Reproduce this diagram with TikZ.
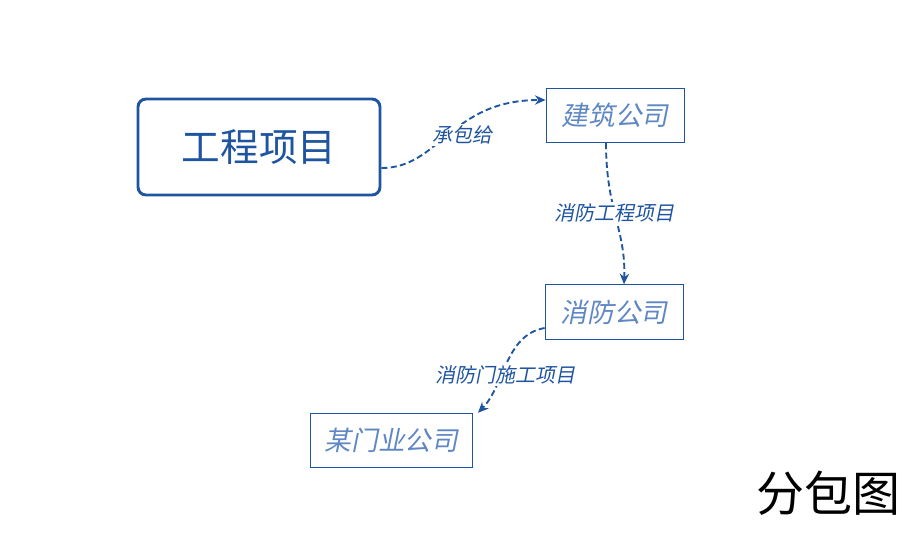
\documentclass[tikz,border=0pt]{standalone}
\usepackage{fontspec}
\usetikzlibrary{arrows.meta}
\newfontfamily\cjk{Noto Sans CJK SC}
\newfontfamily\cjkit[FakeSlant=0.2]{Noto Sans CJK SC}
\definecolor{boxblue}{RGB}{31,85,160}
\definecolor{textblue}{RGB}{95,135,195}
\tikzset{
  mainbox/.style={draw=boxblue,line width=2.2pt,rounded corners=6pt,minimum width=181.5pt,minimum height=72pt,text=boxblue,font=\cjk\fontsize{29}{32}\selectfont},
  firmbox/.style={draw=boxblue,line width=0.6pt,minimum height=41pt,text=textblue,font=\cjkit\fontsize{20}{24}\selectfont},
  flow/.style={draw=boxblue,line width=1.4pt,dash pattern=on 4.5pt off 2.5pt,-{Stealth[length=8pt,width=7pt]}},
  flowlabel/.style={text=boxblue,fill=white,inner sep=1pt,font=\cjkit\fontsize{15}{18}\selectfont}
}
\begin{document}
\begin{tikzpicture}[x=0.75pt,y=0.75pt,yscale=-1,xscale=1]
  \useasboundingbox (0,0) rectangle (912,532);

  % boxes
  \node[mainbox] (project) at (259,147) {工程项目};
  \node[firmbox,minimum width=103.5pt] (builder) at (615,115.5) {建筑公司};
  \node[firmbox,minimum width=103.5pt] (fire) at (614,312) {消防公司};
  \node[firmbox,minimum width=122pt] (door) at (391.5,440.5) {某门业公司};

  % connectors
  \draw[flow] (project.east |- 0,168) .. controls (440,168) and (450,100) .. (builder.west |- 0,100);
  \draw[flow] (builder.south -| 606,0) .. controls (606,210) and (626,230) .. (fire.north -| 624,0);
  \draw[flow] (fire.west |- 0,328) .. controls (505,335) and (505,385) .. (door.north east -| 478,0);

  % labels
  \node[flowlabel] (lbla) at (462,135) {承包给};
  \node[flowlabel] (lblb) at (614,213) {消防工程项目};
  \node[flowlabel] (lblc) at (505,375) {消防门施工项目};
  \node[font=\cjk\fontsize{36}{40}\selectfont] (title) at (828,493) {分包图};
\end{tikzpicture}
\end{document}
